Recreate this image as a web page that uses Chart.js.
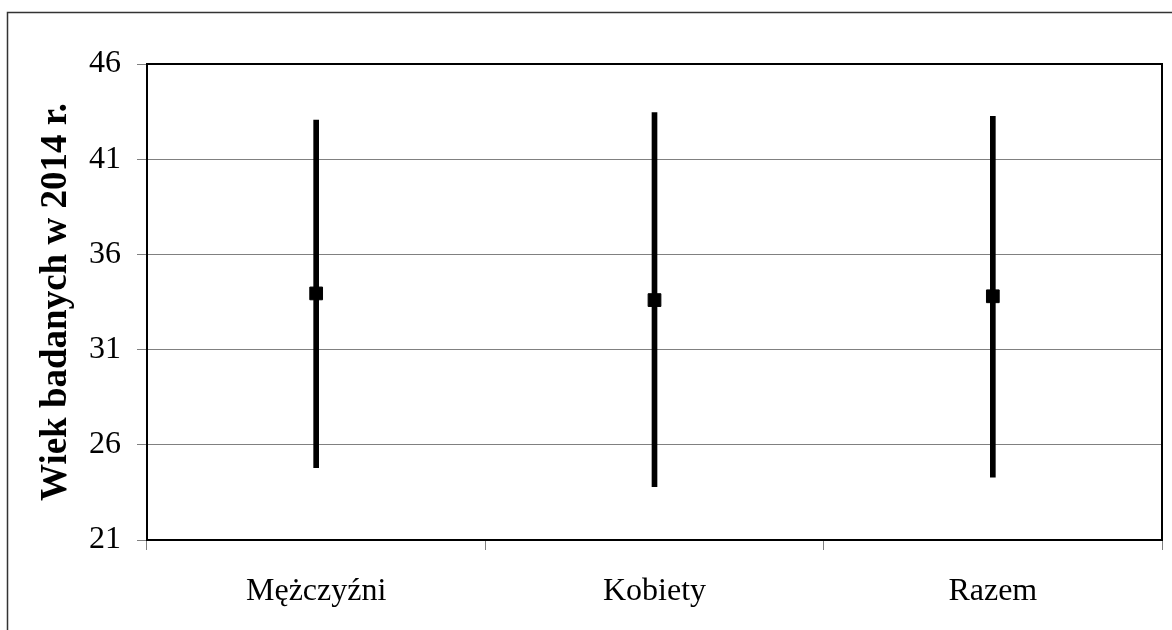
<!DOCTYPE html>
<html>
<head>
<meta charset="utf-8">
<script src="https://cdn.jsdelivr.net/npm/chart.js@4.4.1/dist/chart.umd.min.js"></script>
<style>
  body { margin: 0; background: #fff; }
  #wrap { width: 1172px; height: 630px; position: relative; }
</style>
</head>
<body>
<div id="wrap"><canvas id="myChart"></canvas></div>
<script>
// categories and values
const categories = ['Mężczyźni', 'Kobiety', 'Razem'];
const minAge = [24.8, 23.8, 24.3];
const maxAge = [43.05, 43.45, 43.25];
const meanAge = [33.95, 33.6, 33.8];
const yTicks = { min: 21, max: 46, step: 5 };

const fontFamily = "'Liberation Serif', 'Times New Roman', serif";

// outer frame and the closed plot border
const framePlugin = {
  id: 'frame',
  beforeDraw(chart) {
    const c = chart.ctx;
    c.save();
    c.strokeStyle = '#333';
    c.lineWidth = 1.5;
    c.beginPath();
    c.moveTo(7.5, 630);
    c.lineTo(7.5, 12.5);
    c.lineTo(1172, 12.5);
    c.stroke();
    c.restore();
  },
  afterDraw(chart) {
    const a = chart.chartArea;
    const c = chart.ctx;
    c.save();
    c.strokeStyle = '#000';
    c.lineWidth = 2;
    c.strokeRect(a.left, a.top, a.right - a.left, a.bottom - a.top);
    c.restore();
  }
};

const ctx = document.getElementById('myChart').getContext('2d');
const chart = new Chart(ctx, {
  data: {
    labels: categories,
    datasets: [
      {
        type: 'line',
        label: 'średnia',
        data: meanAge,
        showLine: false,
        pointStyle: 'rect',
        pointRadius: 9,
        pointBackgroundColor: '#000',
        pointBorderColor: '#000',
        pointBorderWidth: 1,
        order: 0
      },
      {
        type: 'bar',
        label: 'zakres',
        data: categories.map((c, i) => [minAge[i], maxAge[i]]),
        backgroundColor: '#000',
        barThickness: 5,
        grouped: false,
        order: 1
      }
    ]
  },
  options: {
    responsive: true,
    maintainAspectRatio: false,
    animation: false,
    layout: { padding: { left: 34, top: 64, right: 7, bottom: 0 } },
    plugins: {
      legend: { display: false },
      tooltip: { enabled: false }
    },
    scales: {
      x: {
        offset: true,
        grid: {
          offset: true,
          drawOnChartArea: false,
          drawTicks: true,
          tickLength: 10,
          color: '#808080'
        },
        border: { color: '#000', width: 2 },
        ticks: {
          color: '#000',
          padding: 22,
          font: { family: fontFamily, size: 32 }
        },
        afterFit(scale) { scale.height = 90; }
      },
      y: {
        min: yTicks.min,
        max: yTicks.max,
        grid: {
          color: '#808080',
          lineWidth: 1,
          tickLength: 10
        },
        border: { color: '#000', width: 2 },
        ticks: {
          stepSize: yTicks.step,
          color: '#000',
          padding: 16,
          font: { family: fontFamily, size: 32 }
        },
        title: {
          display: true,
          text: 'Wiek badanych w 2014 r.',
          color: '#000',
          padding: { top: 0, bottom: 0 },
          font: { family: fontFamily, size: 37, weight: 'bold' }
        },
        afterFit(scale) { scale.width = 113; }
      }
    }
  },
  plugins: [framePlugin]
});
</script>
</body>
</html>
